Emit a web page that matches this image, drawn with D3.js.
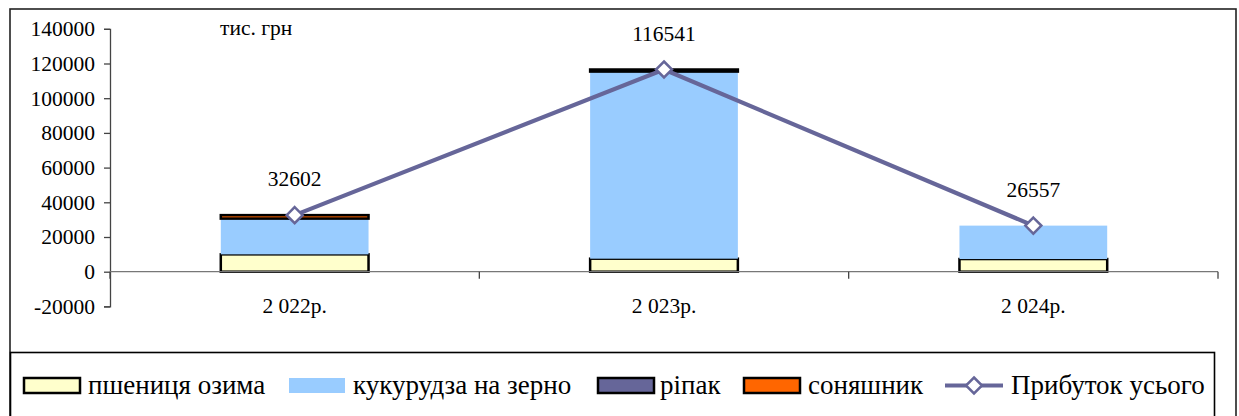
<!DOCTYPE html>
<html><head><meta charset="utf-8">
<script src="https://cdn.jsdelivr.net/npm/d3@7/dist/d3.min.js"></script>
<style>body{margin:0;background:#fff}svg{display:block}</style>
</head><body><svg id="c" width="1239" height="416" font-family="Liberation Serif"></svg>
<script>
const categories = ["2 022р.", "2 023р.", "2 024р."];
const wheat = [10000, 7500, 7300];
const corn = [20602, 107841, 19257];
const rapeseed = [0, 1200, 0];
const sunflower = [2000, 0, 0];
const total = [32602, 116541, 26557];
const yTicks = [-20000, 0, 20000, 40000, 60000, 80000, 100000, 120000, 140000];
const seriesNames = ["пшениця озима", "кукурудза на зерно", "ріпак", "соняшник"];
const lineName = "Прибуток усього";
const unitLabel = "тис. грн";

const FONT = "Liberation Serif";
const svg = d3.select("#c");
const colors = ["#FFFFCC", "#99CCFF", "#666699", "#FF6600"];
const strokes = ["#000", "none", "#000", "#000"];
const series = [wheat, corn, rapeseed, sunflower];
const txt = (sel, size) => sel.attr("font-family", FONT).attr("font-size", size).attr("fill", "#000");

svg.append("rect").attr("x",10).attr("y",9).attr("width",1226).attr("height",420)
  .attr("fill","none").attr("stroke","#222").attr("stroke-width",1.6);

const x = d3.scaleBand().domain(categories).range([110,1218]).padding(0);
const y = d3.scaleLinear().domain([-20000,140000]).range([306.4,28.8]);
const bw = x.bandwidth()/2.5;

const yAxis = svg.append("g").attr("transform","translate(110,0)")
  .call(d3.axisLeft(y).tickValues(yTicks).tickSize(6).tickPadding(9).tickFormat(d => String(d)));
yAxis.attr("font-family", FONT);
yAxis.select(".domain").attr("stroke","#444").attr("stroke-width",1.3);
yAxis.selectAll(".tick line").attr("stroke","#444").attr("stroke-width",1.3);
txt(yAxis.selectAll("text"), 21.5);

const stackData = categories.map((c,i)=>{ let acc=0; return series.map((s,k)=>{ const y0=acc; acc+=s[i]; return {c,k,y0,y1:acc,v:s[i]}; }); });
series.forEach((s,k)=>{
  svg.append("g").selectAll("rect").data(stackData.map(d=>d[k]).filter(d=>d.v>0)).join("rect")
    .attr("x",d=>x(d.c)+x.bandwidth()/2-bw/2)
    .attr("y",d=>y(d.y1)).attr("width",bw).attr("height",d=>y(d.y0)-y(d.y1))
    .attr("fill",colors[k]).attr("stroke",strokes[k]).attr("stroke-width",2.5);
});

const xAxis = svg.append("g").attr("transform",`translate(0,${y(0)})`);
xAxis.append("line").attr("x1",110).attr("x2",1218).attr("stroke","#777").attr("stroke-width",1.3);
const bounds = categories.map(c=>x(c)).concat([x.range()[1]]);
xAxis.selectAll("line.t").data(bounds).join("line").attr("class","t")
  .attr("x1",d=>d).attr("x2",d=>d).attr("y1",0).attr("y2",7).attr("stroke","#444").attr("stroke-width",1.3);
txt(svg.append("g").selectAll("text").data(categories).join("text")
  .attr("x",d=>x(d)+x.bandwidth()/2).attr("y",313).attr("text-anchor","middle").text(d=>d), 21.5);

const cx = i=>x(categories[i])+x.bandwidth()/2;
svg.append("path").datum(total).attr("fill","none").attr("stroke","#666699").attr("stroke-width",4.2)
  .attr("d",d3.line().x((d,i)=>cx(i)).y(d=>y(d)));
const diamond = (px,py,r)=>`M${px},${py-r}L${px+r},${py}L${px},${py+r}L${px-r},${py}Z`;
svg.append("g").selectAll("path").data(total).join("path")
  .attr("d",(d,i)=>diamond(cx(i),y(d),8)).attr("fill","#fff").attr("stroke","#666699").attr("stroke-width",2.5);
txt(svg.append("g").selectAll("text").data(total).join("text")
  .attr("x",(d,i)=>cx(i)).attr("y",d=>y(d)-29).attr("text-anchor","middle").text(d=>d), 21.5);

txt(svg.append("text").attr("x",220).attr("y",35).text(unitLabel), 21.5);

svg.append("rect").attr("x",10.5).attr("y",352.5).attr("width",1204).attr("height",100)
  .attr("fill","none").attr("stroke","#000").attr("stroke-width",1.6);
const swX = [23, 288, 597, 743];
const txX = [88, 353, 660, 808];
seriesNames.forEach((n,k)=>{
  svg.append("rect").attr("x",swX[k]+1).attr("y",378).attr("width",56).attr("height",15)
    .attr("fill",colors[k]).attr("stroke",strokes[k]).attr("stroke-width",2.5);
  txt(svg.append("text").attr("x",txX[k]).attr("y",394).text(n), 27);
});
svg.append("line").attr("x1",945).attr("x2",1003).attr("y1",385.5).attr("y2",385.5).attr("stroke","#666699").attr("stroke-width",4.2);
svg.append("path").attr("d",diamond(974,385.5,8)).attr("fill","#fff").attr("stroke","#666699").attr("stroke-width",2.5);
txt(svg.append("text").attr("x",1011).attr("y",394).text(lineName), 27);
</script></body></html>
